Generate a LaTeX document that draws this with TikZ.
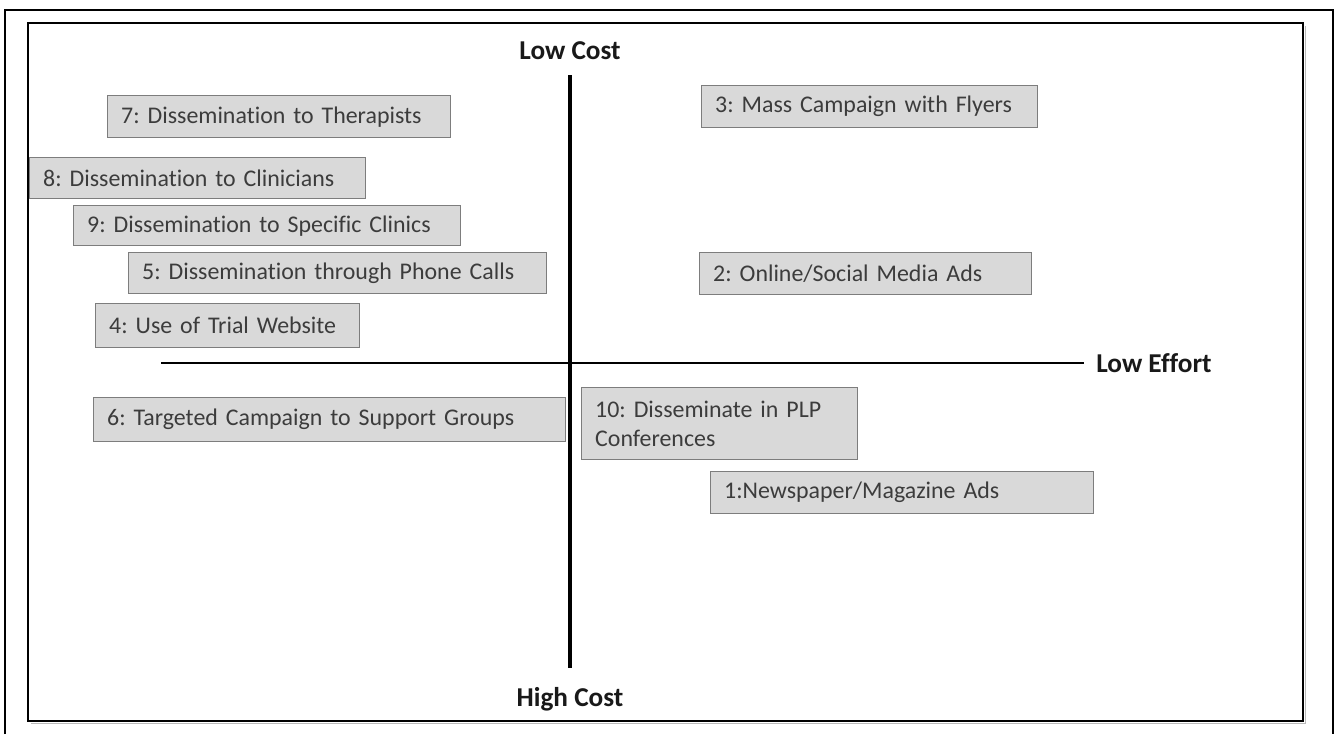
\documentclass[tikz,border=0pt]{standalone}
\usepackage{fontspec}
\setmainfont{Carlito}[Ligatures=NoCommon]
\usepackage{xcolor}
\definecolor{boxgray}{RGB}{217,217,217}
\definecolor{edgegray}{RGB}{125,125,125}
\definecolor{textgray}{RGB}{60,60,60}
\usetikzlibrary{positioning}
\tikzset{
  strategy/.style={rectangle,draw=edgegray,line width=0.8pt,fill=boxgray,text=textgray,font=\fontsize{13.6}{16.5}\selectfont\frenchspacing,anchor=north west,align=left,inner xsep=0.27cm,inner ysep=0pt,text width=#1},
  axis/.style={draw=black,line width=1.9pt},
  effortaxis/.style={draw=black,line width=1.5pt},
  axislabel/.style={font=\bfseries\fontsize{15.5}{18}\selectfont,inner sep=0pt,text=black!90},
  frame/.style={draw=black,line width=1.1pt}
}

\begin{document}
\begin{tikzpicture}[x=0.02cm,y=-0.02cm]
  \useasboundingbox (0,0) rectangle (1336,734);
  % Frames
  \draw[frame] (5,734) -- (5,10) -- (1333,10) -- (1333,734);
  \draw[gray!55,line width=1pt] (31,723.5) -- (1305.5,723.5) -- (1305.5,26);
  \draw[frame,fill=white] (28,23) rectangle (1303,721);

  % Axes
  \coordinate (ctop) at (570,75);
  \coordinate (cbot) at (570,668);
  \coordinate (eleft) at (161,363);
  \coordinate (eright) at (1084,363);
  \draw[effortaxis] (eleft) -- (eright);
  \draw[axis] (ctop) -- (cbot);
  \node[axislabel,above=0.3cm of ctop] (lowcost) {Low Cost};
  \node[axislabel,below=0.38cm of cbot] (highcost) {High Cost};
  \node[axislabel,right=0.24cm of eright] (loweffort) {Low Effort};

  % Strategies, left of the cost axis
  \node[strategy=6.32cm,minimum height=0.84cm] (s7) at (107,95) {7: Dissemination to Therapists};
  \node[strategy=6.18cm,minimum height=0.82cm] (s8) at (29,157) {8: Dissemination to Clinicians};
  \node[strategy=7.20cm,minimum height=0.80cm] (s9) at (73,205) {9: Dissemination to Specific Clinics};
  \node[strategy=7.82cm,minimum height=0.82cm] (s5) at (128,252) {5: Dissemination through Phone Calls};
  \node[strategy=4.74cm,minimum height=0.88cm] (s4) at (95,303) {4: Use of Trial Website};
  \node[strategy=8.90cm,minimum height=0.88cm] (s6) at (93,397) {6: Targeted Campaign to Support Groups};

  % Strategies, right of the cost axis
  \node[strategy=6.18cm,minimum height=0.84cm] (s3) at (701,85) {3: Mass Campaign with Flyers};
  \node[strategy=6.10cm,minimum height=0.84cm] (s2) at (699,252) {2: Online/Social Media Ads};
  \node[strategy=4.98cm,minimum height=1.44cm] (s10) at (581,387) {10: Disseminate in PLP\\Conferences};
  \node[strategy=7.12cm,minimum height=0.84cm] (s1) at (710,471) {1:Newspaper/Magazine Ads};
\end{tikzpicture}
\end{document}
